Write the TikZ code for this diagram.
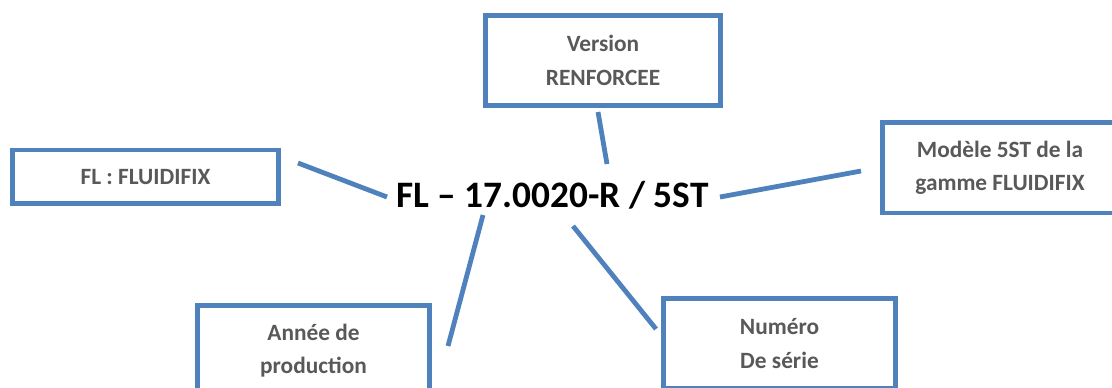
\documentclass[tikz,border=0pt]{standalone}
\usepackage{fontspec}
\setmainfont{Carlito}
\definecolor{boxblue}{RGB}{79,129,189}
\definecolor{labelgray}{RGB}{89,89,89}
\tikzset{every picture/.style={line width=0.75pt}}
\tikzset{
  infobox/.style={draw=boxblue, line width=3.6pt, fill=white, align=center, inner sep=0pt,
    text=labelgray, font=\fontsize{17.5}{25}\selectfont\bfseries},
  link/.style={draw=boxblue, line width=3.6pt}
}

\begin{document}
\begin{tikzpicture}[x=0.75pt,y=0.75pt,yscale=-1,xscale=1]
\path[use as bounding box] (0,0) rectangle (1112,387);
\clip (0,0) rectangle (1112,387);

% Reference code
\node [anchor=base, font=\fontsize{28}{34}\selectfont\bfseries] (code) at (552.5,207) {FL – 17.0020-R / 5ST};

%Shape: Rectangle
\node [infobox, minimum width=176.25pt, minimum height=67.5pt] (version) at (603,60.5) {Version\\RENFORCEE};
\node [infobox, minimum width=199.5pt, minimum height=40.1pt] (range) at (145.5,176.75) {FL : FLUIDIFIX};
\node [infobox, minimum width=176.25pt, minimum height=67.9pt] (model) at (1000,167.75) {Modèle 5ST de la\\gamme FLUIDIFIX};
\node [infobox, minimum width=174pt, minimum height=67.5pt] (year) at (313.5,350.5) {Année de\\production};
\node [infobox, minimum width=174pt, minimum height=67.5pt] (serial) at (779.5,343.5) {Numéro\\De série};

%Straight Lines
\coordinate (v1) at (598,112);  \coordinate (v2) at (607,164);
\coordinate (r1) at (298,163);  \coordinate (r2) at (387,197);
\coordinate (m1) at (720,197);  \coordinate (m2) at (861,171);
\coordinate (y1) at (483,215);  \coordinate (y2) at (448,346);
\coordinate (s1) at (573,226);  \coordinate (s2) at (656,329);
\draw [link] (v1) -- (v2);
\draw [link] (r1) -- (r2);
\draw [link] (m1) -- (m2);
\draw [link] (y1) -- (y2);
\draw [link] (s1) -- (s2);

\end{tikzpicture}
\end{document}
